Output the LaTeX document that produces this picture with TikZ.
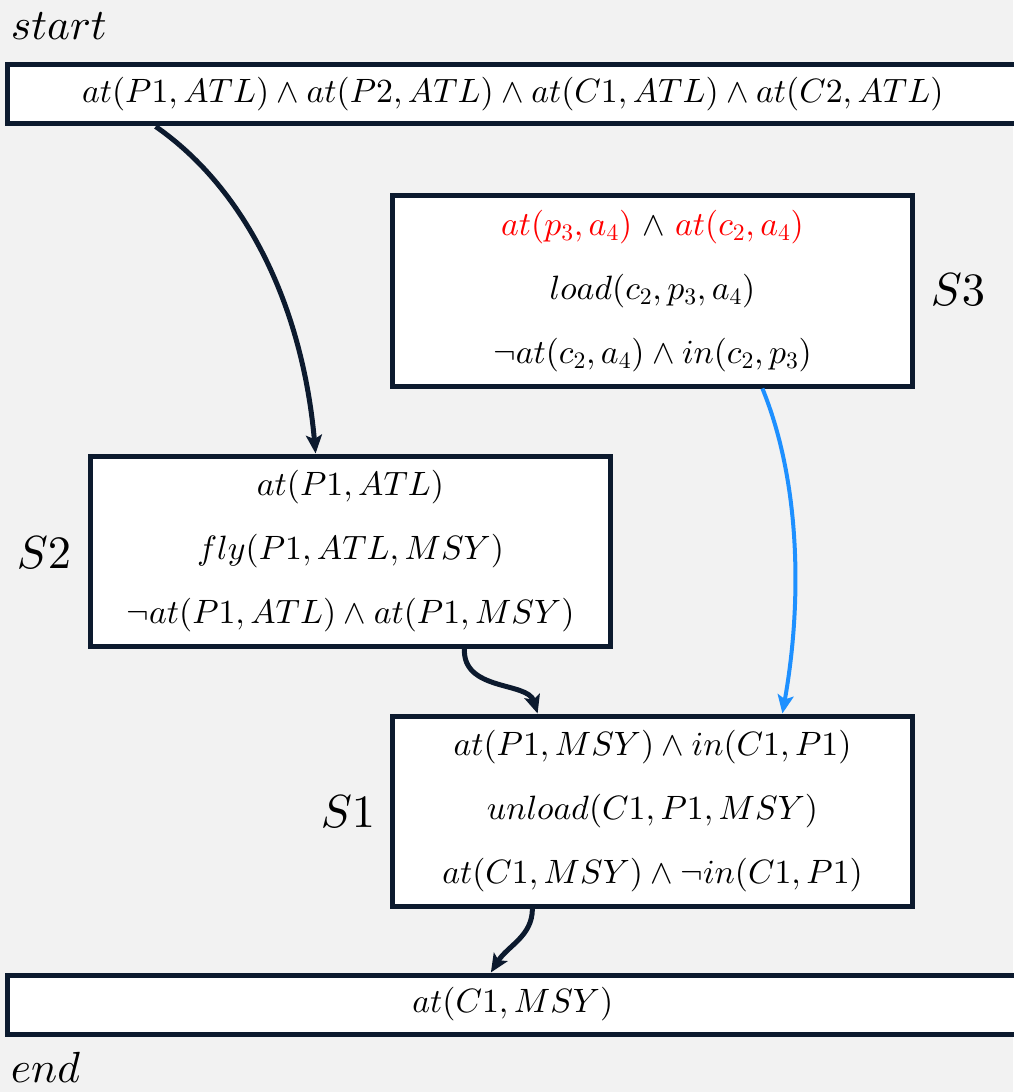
\documentclass[tikz,border=0pt]{standalone}
\usetikzlibrary{arrows.meta}
\DeclareFontShape{OML}{cmm}{m}{it}{<-> cmmi10}{}
\DeclareFontShape{OMS}{cmsy}{m}{n}{<-> cmsy10}{}
\DeclareFontShape{OT1}{cmr}{m}{n}{<-> cmr10}{}
\definecolor{boxline}{HTML}{0C1A2E}
\definecolor{flowblue}{HTML}{1E90FF}
\definecolor{bggray}{HTML}{F2F2F2}
\tikzset{
  statebox/.style={draw=boxline, fill=white, line width=1.25mm, align=center,
    inner sep=0pt, minimum width=130mm, minimum height=47.5mm,
    font=\fontsize{24}{45.6}\selectfont},
  widebox/.style={statebox, minimum width=252.5mm, minimum height=14.75mm},
  steplabel/.style={font=\fontsize{33}{40}\selectfont},
  endlabel/.style={font=\fontsize{31}{36}\selectfont, anchor=west},
  flow/.style={draw=boxline, line width=1.25mm,
    -{Stealth[length=4.6mm, width=4mm, inset=1mm]}},
  blueflow/.style={flow, draw=flowblue, line width=1mm}
}
\begin{document}
\begin{tikzpicture}[x=0.25mm, y=-0.25mm]
    \fill[bggray] (0,0) rectangle (1013,1092);
    \useasboundingbox (0,0) rectangle (1013,1092);
    % start and end
    \node[widebox] (start) at (512.75,94.5)
        {$at(P1,ATL)\wedge at(P2,ATL)\wedge at(C1,ATL)\wedge at(C2,ATL)$};
    \node[widebox] (goal) at (512.75,1004.5) {$at(C1,MSY)$};
    \node[endlabel] (startlbl) at (6,26) {$start$};
    \node[endlabel] (endlbl) at (6,1067) {$end$};
    % steps
    \node[statebox] (s3) at (652.5,291)
        {$\color{red}at(p_3,a_4)$ $\wedge$ $\color{red}at(c_2,a_4)$\\
         $load(c_2,p_3,a_4)$\\
         $\neg at(c_2,a_4)\wedge in(c_2,p_3)$};
    \node[statebox] (s2) at (350.5,551)
        {$at(P1,ATL)$\\ $fly(P1,ATL,MSY)$\\ $\neg at(P1,ATL)\wedge at(P1,MSY)$};
    \node[statebox] (s1) at (652.5,811)
        {$at(P1,MSY)\wedge in(C1,P1)$\\ $unload(C1,P1,MSY)$\\
         $at(C1,MSY)\wedge\neg in(C1,P1)$};
    \node[steplabel] (s3lbl) at (958,290) {$S3$};
    \node[steplabel] (s2lbl) at (44,553) {$S2$};
    \node[steplabel] (s1lbl) at (348,812) {$S1$};
    % links
    \draw[flow] ([xshift=37.6mm]start.south west)
        .. controls +(92,64) and +(-13,-145) .. ([xshift=56.9mm]s2.north west);
    \draw[flow] ([xshift=94.1mm]s2.south west)
        .. controls +(-2,43) and +(-10,-32) .. ([xshift=36.9mm]s1.north west);
    \draw[blueflow] ([xshift=93.1mm]s3.south west)
        .. controls +(38,93) and +(20,-112) .. ([xshift=98.1mm]s1.north west);
    \draw[flow] ([xshift=35.6mm]s1.south west)
        .. controls +(0,28) and +(17,-27) .. ([xshift=121.4mm]goal.north west);
\end{tikzpicture}
\end{document}
